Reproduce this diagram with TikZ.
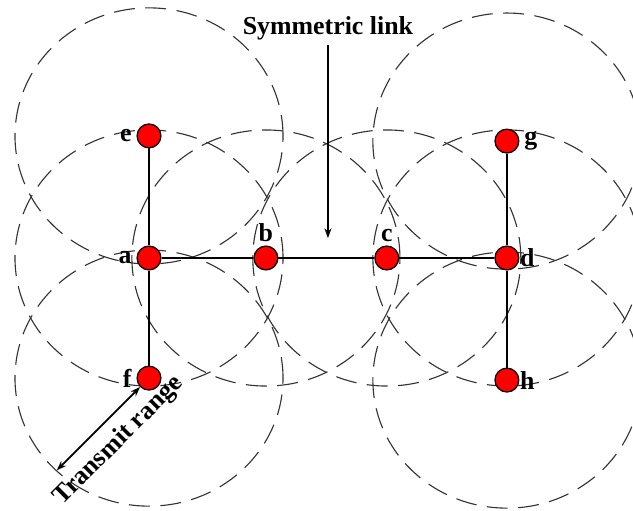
\documentclass[tikz,border=0pt]{standalone}
\usepackage{fontspec}
\setmainfont{Liberation Serif}
\usetikzlibrary{backgrounds, arrows.meta}

\begin{document}
\begin{tikzpicture}[>={Stealth[length=7pt, width=5pt]},
    station/.style={circle, draw=black, fill=red, line width=0.9pt, minimum size=0.6cm, inner sep=0pt},
    txrange/.style={draw=black!80, line width=0.8pt, dash pattern=on 15pt off 7.5pt},
    link/.style={line width=1.2pt},
    tag/.style={font=\fontsize{18.5}{22}\selectfont\bfseries}]

    \useasboundingbox (-3.747, -6.362) rectangle (12.171, 6.488);

    % 节点
    \node[station, label={[tag, label distance=0pt]left:e}] (e) at (0, 3.07) {};
    \node[station, label={[tag, label distance=0pt]left:a}] (a) at (0, 0) {};
    \node[station, label={[tag, label distance=0pt]left:f}] (f) at (0, -3.02) {};
    \node[station, label={[tag, label distance=-1pt]above:b}] (b) at (2.94, 0) {};
    \node[station, label={[tag, label distance=-1pt]above:c}] (c) at (5.98, 0) {};
    \node[station, label={[tag, label distance=-3pt]right:d}] (d) at (9, 0) {};
    \node[station, label={[tag, label distance=0pt]right:g}] (g) at (9, 2.94) {};
    \node[station, label={[tag, label distance=-3pt]right:h}] (h) at (9, -3.07) {};

    % 链路
    \draw[link] (e) -- (a);
    \draw[link] (a) -- (f);
    \draw[link] (a) -- (b);
    \draw[link] (b) -- (c);
    \draw[link] (c) -- (d);
    \draw[link] (g) -- (d);
    \draw[link] (d) -- (h);

    % 传输范围
    \begin{scope}[on background layer]
        \foreach \n in {a, b, c, d, e, f, g, h}
            \draw[txrange] (\n) ellipse (3.37 and 3.22);
    \end{scope}

    % 标注
    \node[tag, anchor=base] (sym) at (4.5, 5.61) {Symmetric link};
    \coordinate (tip) at (4.5, 0.5);
    \draw[->, line width=1.2pt] (sym.south) -- (tip);

    \coordinate (rim) at ([shift={(225:3.28)}]f.center);
    \draw[<->, line width=1.2pt] (rim) -- node[tag, sloped, below=4pt, pos=0.55] {Transmit range} (f.225);

\end{tikzpicture}
\end{document}
